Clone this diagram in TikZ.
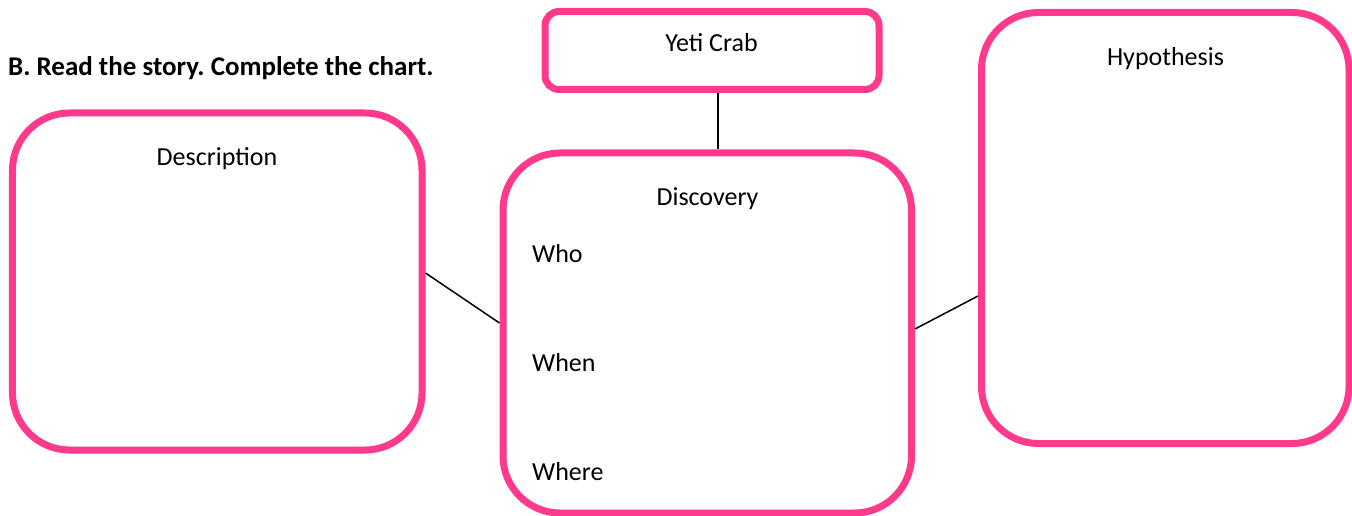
\documentclass[tikz,border=0pt]{standalone}
\usepackage{fontspec}
\setmainfont{Carlito}
\definecolor{boxpink}{HTML}{FF3A8C}
\frenchspacing
\begin{document}
\begin{tikzpicture}[x=1bp,y=-1bp,
  box/.style={draw=boxpink,line width=7bp,rectangle,inner sep=0pt,fill=none},
  bigbox/.style={box,rounded corners=57bp},
  smallbox/.style={box,rounded corners=14bp},
  txt/.style={inner sep=0pt,font=\fontsize{26bp}{31bp}\selectfont,text=black},
  conn/.style={draw=black,line width=1.5bp}]
\useasboundingbox (0,0) rectangle (1352,516);
% boxes
\node[bigbox,minimum width=409.5bp,minimum height=337bp] (desc) at (217.25,281.5) {};
\node[smallbox,minimum width=334bp,minimum height=78bp] (yeti) at (712,50.5) {};
\node[bigbox,minimum width=408.5bp,minimum height=360bp] (disc) at (707.25,333) {};
\node[bigbox,minimum width=367.5bp,minimum height=431bp] (hyp) at (1165.25,228) {};
% texts
\node[txt,anchor=base west,font=\fontsize{27bp}{32bp}\selectfont\bfseries] (title) at (8,76) {B. Read the story. Complete the chart.};
\node[txt,anchor=base] (yetit) at (711.5,52) {Yeti Crab};
\node[txt,anchor=base] (desct) at (217,166) {Description};
\node[txt,anchor=base] (disct) at (707.5,206) {Discovery};
\node[txt,anchor=base] (hypt) at (1165.5,66) {Hypothesis};
\node[txt,anchor=base west] (who) at (532,262.5) {Who};
\node[txt,anchor=base west] (when) at (532,371.5) {When};
\node[txt,anchor=base west] (where) at (532,480.5) {Where};
% connector anchor helpers
\coordinate (tx) at (718,0);
\coordinate (ly1) at (0,273);
\coordinate (ly2) at (0,323);
\coordinate (ry1) at (0,329);
\coordinate (ry2) at (0,296);
% connectors
\draw[conn] (yeti.south -| tx) -- (disc.north -| tx);
\draw[conn] (desc.east |- ly1) -- (disc.west |- ly2);
\draw[conn] (disc.east |- ry1) -- (hyp.west |- ry2);
\end{tikzpicture}
\end{document}
